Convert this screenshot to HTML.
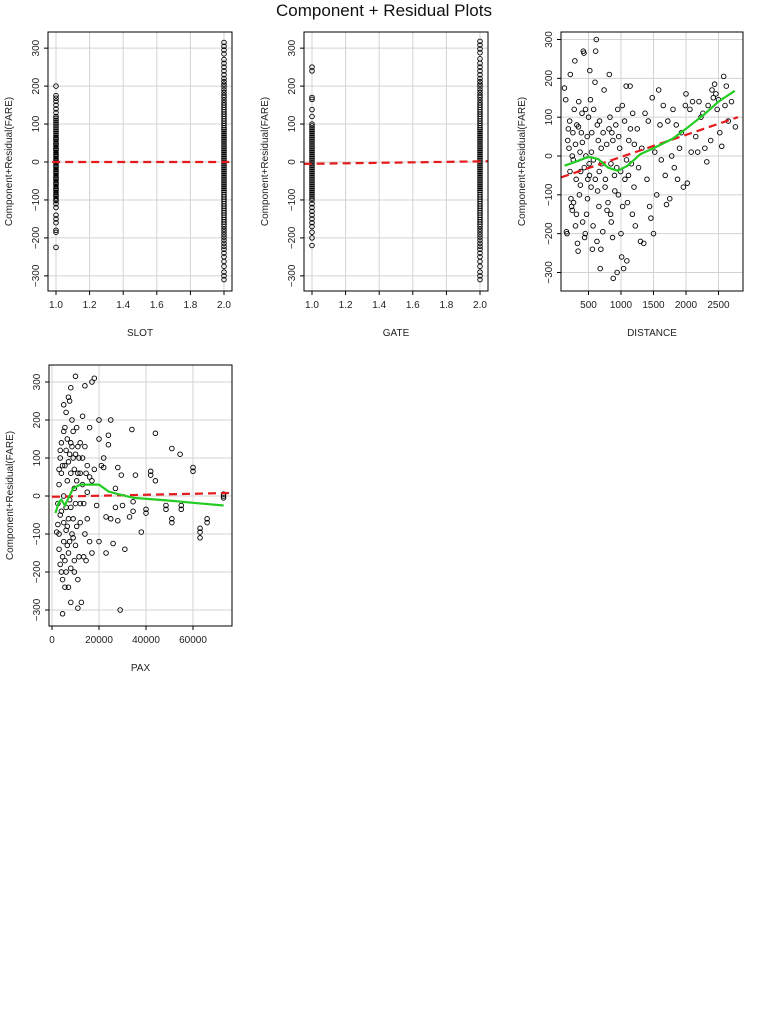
<!DOCTYPE html>
<html><head><meta charset="utf-8"><style>
html,body{margin:0;padding:0;background:#fff;}
svg{display:block;font-family:"Liberation Sans",Arial,sans-serif;}
</style></head><body>
<svg id="chart" width="768" height="1024" viewBox="0 0 768 1024" xmlns="http://www.w3.org/2000/svg">
<rect width="768" height="1024" fill="#fff"/>
<text x="384" y="16" text-anchor="middle" font-size="17" fill="#111">Component + Residual Plots</text>
</svg>
<script>
// ---- data ----
const slot1 = [200,175,168,160,150,140,130,120,115,110,105,100,95,90,85,80,75,70,65,60,55,50,45,40,35,30,25,20,15,10,5,0,-5,-10,-15,-20,-25,-30,-35,-40,-45,-50,-55,-60,-65,-70,-75,-80,-85,-90,-95,-100,-110,-120,-140,-150,-160,-180,-185,-225,62,48,33,18,3,-12,-27,-42,-57,-72,-87,-102];
const slot2 = [315,305,295,285,270,260,250,240,230,220,212,205,198,190,183,176,170,163,156,150,144,138,132,126,120,114,108,102,96,90,85,80,75,70,65,60,55,50,45,40,35,30,25,20,15,10,5,0,-5,-10,-15,-20,-25,-30,-35,-40,-45,-50,-55,-60,-65,-70,-75,-80,-86,-92,-98,-104,-110,-116,-122,-128,-134,-140,-146,-152,-158,-164,-170,-177,-184,-191,-198,-206,-214,-222,-230,-240,-250,-262,-275,-290,-300,-310];
const gate1 = [250,240,170,165,138,120,100,95,90,85,80,75,70,65,60,55,50,45,40,35,30,25,20,15,10,5,0,-5,-10,-15,-20,-25,-30,-35,-40,-45,-50,-55,-60,-65,-70,-75,-80,-85,-90,-95,-100,-110,-120,-130,-140,-150,-160,-170,-185,-200,-220];
const gate2 = [318,308,298,288,272,260,250,240,230,220,212,205,198,190,183,176,170,163,156,150,144,138,132,126,120,114,108,102,96,90,85,80,75,70,65,60,55,50,45,40,35,30,25,20,15,10,5,0,-5,-10,-15,-20,-25,-30,-35,-40,-45,-50,-55,-60,-65,-70,-75,-80,-86,-92,-98,-104,-110,-116,-122,-128,-134,-140,-146,-152,-158,-164,-170,-177,-184,-191,-198,-206,-214,-222,-230,-240,-250,-262,-275,-290,-300,-310];
const slotFit = [[1,0],[2,0]];
const gateFit = [[0.95,-5],[2.05,2]];
const distX = [130,150,160,170,180,190,200,210,220,230,240,250,250,260,270,280,290,300,300,310,320,330,340,350,360,370,380,390,400,410,420,430,440,450,460,470,480,490,500,510,520,530,540,550,560,570,580,600,610,620,630,640,650,660,670,680,690,700,720,740,760,780,800,820,830,840,850,860,870,880,900,920,940,950,960,980,1000,1010,1020,1040,1060,1080,1090,1100,1120,1140,1160,1180,1200,1220,1250,1270,1300,1320,1350,1370,1400,1420,1440,1460,1480,1500,1520,1550,1580,1600,1620,1650,1680,1700,1720,1750,1780,1800,1820,1850,1870,1900,1930,1960,1990,2000,2020,2060,2080,2100,2150,2180,2200,2230,2260,2290,2320,2340,2380,2400,2420,2440,2460,2480,2500,2520,2550,2580,2600,2620,2650,2700,2760,215,265,315,345,375,405,435,455,485,515,545,575,605,635,665,695,725,755,785,815,845,875,905,935,965,995,1025,1055,1085,1115,1145,1175,1205];
const distY = [175,145,-195,-200,40,70,20,90,210,-110,-130,-140,0,60,-120,120,245,-180,30,-60,80,-225,-245,140,-100,10,-40,60,110,-170,270,265,-210,-200,0,-150,50,-60,100,-20,220,145,-80,60,-240,-180,120,190,270,300,-220,-90,40,-130,90,-290,-240,-20,-195,170,-60,30,-120,210,100,-150,-170,60,-210,-315,-50,80,-300,120,-100,20,-200,-260,130,-290,-60,180,-270,-120,40,180,-20,110,-80,-180,70,-30,-220,20,-225,110,-60,90,-130,-160,150,-200,10,-100,170,80,-10,130,-50,-125,90,-110,0,120,-30,80,-60,20,60,-80,130,160,-70,120,10,140,50,10,140,100,110,20,-15,130,40,170,150,185,160,120,145,60,25,205,130,180,90,140,75,-40,-10,-150,75,-75,35,-30,120,-110,-50,10,-10,-60,80,-40,20,60,-80,-140,70,-20,40,-90,-30,50,-40,-130,90,-10,-50,70,-150,30];
const distFitX = [80,2800];
const distFitY = [-55,100];
const distSmX = [130,300,500,650,800,950,1100,1300,1500,1800,2000,2300,2500,2750];
const distSmY = [-25,-15,-2,-8,-30,-38,-25,5,20,45,70,110,140,168];
const paxX = [2000,2500,3000,3000,3500,3500,4000,4000,4000,4500,4500,5000,5000,5000,5500,5500,5500,6000,6000,6000,6500,6500,7000,7000,7000,7000,7500,7500,8000,8000,8000,8000,8500,8500,9000,9000,9500,9500,10000,10000,10000,10500,11000,11000,11000,11500,12000,12000,12500,13000,13000,13500,14000,14000,14500,15000,15000,16000,16000,17000,17000,17000,18000,18000,19000,20000,20000,20000,21000,22000,22000,23000,23000,24000,24000,25000,25000,26000,27000,27000,28000,28000,29000,29500,30000,31000,33000,34000,34500,34500,35500,38000,40000,40000,42000,42000,44000,44000,48500,48500,51000,51000,51000,54500,55000,55000,60000,60000,63000,63000,63000,66000,66000,73000,73000,73000,3000,3500,4000,4500,5000,5500,6000,6500,7000,7500,8000,8500,9000,9500,10000,10500,11000,12000,13000,14000,15000,16000,3000,4500,6000,7500,9000,10500,12000,13500,2500,3500,5000,6500,8000,9500,11500,14500];
const paxY = [-95,-75,30,-140,100,-50,140,-200,60,-310,-220,240,0,-120,180,80,-170,220,-30,120,-80,40,260,-240,90,-150,250,-10,285,-280,60,-190,130,-100,170,-60,20,-200,315,110,-130,180,-220,-295,60,-160,140,-70,-280,210,30,-20,290,130,-170,80,-60,180,-120,300,40,-150,310,70,-25,200,150,-120,80,75,100,-55,-150,160,135,200,-60,-125,20,-30,75,-65,-300,55,-25,-140,-55,175,-15,-40,55,-95,-35,-45,65,55,165,40,-25,-35,125,-60,-70,110,-25,-35,75,65,-85,-95,-110,-60,-70,5,-5,0,-100,120,-40,80,-70,-240,-90,150,-60,110,-30,200,-110,70,-20,-80,130,-20,100,-100,10,50,70,-160,-200,-120,100,40,60,-160,-20,-180,170,-130,140,-170,100,60];
const paxFitX = [0,76000];
const paxFitY = [-2,8];
const paxSmX = [1500,3000,4000,5500,7000,9000,12000,16000,20000,24000,28000,35000,50000,60000,73000];
const paxSmY = [-45,-15,-10,-25,-5,20,30,30,30,12,5,-5,-12,-18,-25];
const yTicks = [-300,-200,-100,0,100,200,300];
const binTicks = [1.0,1.2,1.4,1.6,1.8,2.0];
const distTicks = [500,1000,1500,2000,2500];
const paxTicks = [0,20000,40000,60000];

// ---- drawing ----
const svg = document.getElementById('chart');
const NS = 'http://www.w3.org/2000/svg';
function mk(tag, attrs, parent){ const e=document.createElementNS(NS,tag); for(const k in attrs) e.setAttribute(k,attrs[k]); (parent||svg).appendChild(e); return e; }

function panel(cfg){
  const g = mk('g',{});
  
  
  const sx = v => cfg.x0px + (v - cfg.x0v) * cfg.kx;
  const sy = v => cfg.y0px - v * cfg.ky;
  const L=cfg.left,R=cfg.right,T=cfg.top,B=cfg.bottom;
  // grid
  cfg.xticks.forEach(t=>{ const l=mk('line',{x1:sx(t),x2:sx(t),y1:T,y2:B,stroke:'#d3d3d3','stroke-width':1},g);
      });
  yTicks.forEach(t=>{ const l=mk('line',{x1:L,x2:R,y1:sy(t),y2:sy(t),stroke:'#d3d3d3','stroke-width':1},g);
      });
  // points
  const pts = mk('g',{fill:'none',stroke:'#000','stroke-width':0.9},g);
  
  
  cfg.px.forEach((x,i)=>{ const c=mk('circle',{cx:sx(x),cy:sy(cfg.py[i]),r:2.3},pts);
      });
  // fit line
  const clip = 'clip-'+cfg.name;
  const cp = mk('clipPath',{id:clip},g); mk('rect',{x:L,y:T,width:R-L,height:B-T},cp);
  const fl = mk('line',{x1:sx(cfg.fx[0]),y1:sy(cfg.fy[0]),x2:sx(cfg.fx[1]),y2:sy(cfg.fy[1]),stroke:'#e41a1c','stroke-width':2.2,'stroke-dasharray':'8,5','clip-path':'url(#'+clip+')'},g);
  
  
  if(cfg.sx){
    const d = cfg.sx.map((x,i)=>(i?'L':'M')+sx(x).toFixed(1)+','+sy(cfg.sy[i]).toFixed(1)).join(' ');
    const sm = mk('path',{d:d,fill:'none',stroke:'#22cc22','stroke-width':2.2},g);
    
    
  }
  // box
  const bx = mk('rect',{x:L,y:T,width:R-L,height:B-T,fill:'none',stroke:'#000','stroke-width':1},g);
   
  // x ticks
  cfg.xticks.forEach((t,i)=>{ mk('line',{x1:sx(t),x2:sx(t),y1:B,y2:B+4,stroke:'#000'},g);
    const tx = mk('text',{x:sx(t),y:B+17,'text-anchor':'middle','font-size':10,fill:'#222'},g);
    tx.textContent = cfg.xlabels[i];
      });
  yTicks.forEach(t=>{ mk('line',{x1:L-4,x2:L,y1:sy(t),y2:sy(t),stroke:'#000'},g);
    const tx = mk('text',{x:0,y:0,'text-anchor':'middle','font-size':10,fill:'#222',transform:'translate('+(L-9)+','+sy(t)+') rotate(-90)'},g);
    tx.textContent = t<0 ? '\u2212'+(-t) : String(t);
      });
  const xt = mk('text',{x:(L+R)/2,y:B+45,'text-anchor':'middle','font-size':10,fill:'#222'},g);
  xt.textContent = cfg.xtitle;
   
  const yt = mk('text',{x:0,y:0,'text-anchor':'middle','font-size':10,fill:'#222',transform:'translate('+(L-36)+','+((T+B)/2)+') rotate(-90)'},g);
  yt.textContent = 'Component+Residual(FARE)';
   
}
const binLabels = binTicks.map(t=>t.toFixed(1));
panel({name:'slot',left:48,right:232,top:32,bottom:291,x0v:1,x0px:56,kx:168,y0px:162,ky:0.3795,
  xticks:binTicks,xlabels:binLabels,xtitle:'SLOT',
  px:slot1.map(()=>1).concat(slot2.map(()=>2)),py:slot1.concat(slot2),
  fx:slotFit.map(p=>p[0]).map((v,i)=>i?2.1:0.9),fy:slotFit.map(p=>p[1])});
panel({name:'gate',left:304,right:488,top:32,bottom:291,x0v:1,x0px:312,kx:168,y0px:162,ky:0.3795,
  xticks:binTicks,xlabels:binLabels,xtitle:'GATE',
  px:gate1.map(()=>1).concat(gate2.map(()=>2)),py:gate1.concat(gate2),
  fx:gateFit.map(p=>p[0]),fy:gateFit.map(p=>p[1])});
panel({name:'distance',left:561,right:743,top:32,bottom:291,x0v:0,x0px:556,kx:0.065,y0px:156,ky:0.3883,
  xticks:distTicks,xlabels:distTicks.map(String),xtitle:'DISTANCE',
  px:distX,py:distY,fx:distFitX,fy:distFitY,sx:distSmX,sy:distSmY});
panel({name:'pax',left:49,right:232,top:365,bottom:626,x0v:0,x0px:52,kx:141/60000,y0px:496,ky:0.38,
  xticks:paxTicks,xlabels:paxTicks.map(String),xtitle:'PAX',
  px:paxX,py:paxY,fx:paxFitX,fy:paxFitY,sx:paxSmX,sy:paxSmY});
</script>
</body></html>
